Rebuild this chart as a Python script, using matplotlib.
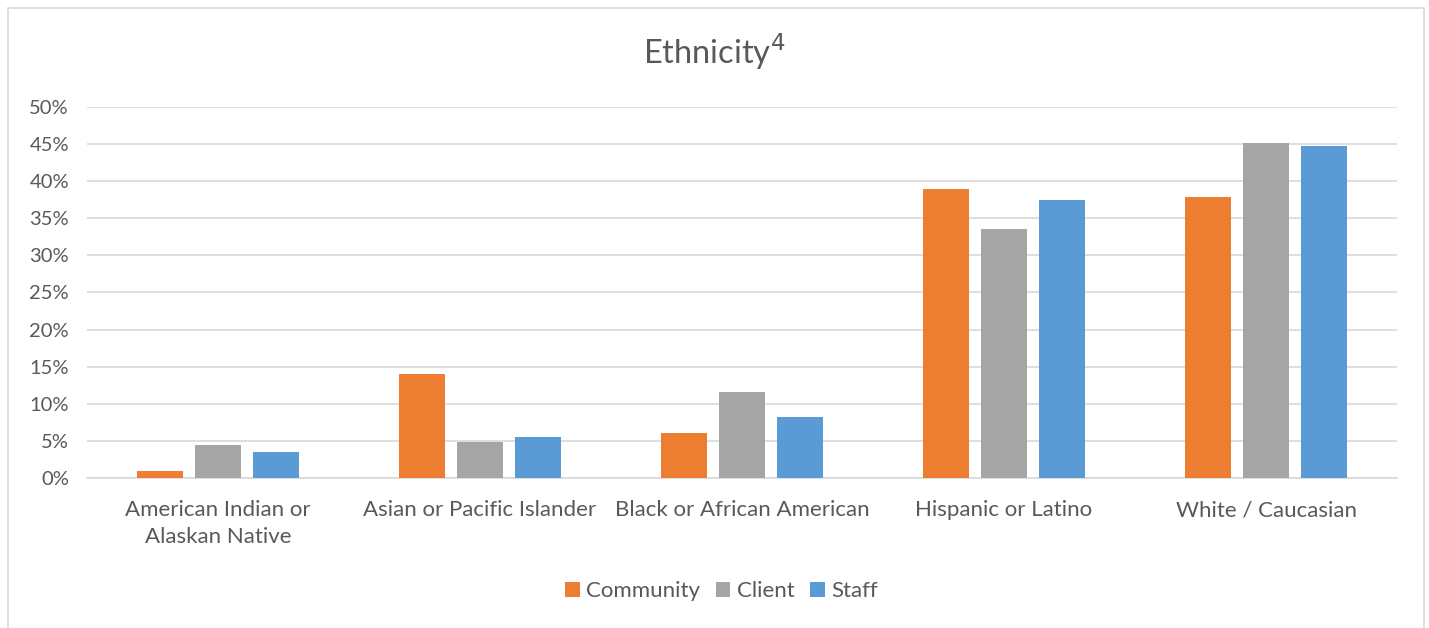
import matplotlib
matplotlib.use("Agg")
import matplotlib.pyplot as plt
import numpy as np
from matplotlib.patches import Rectangle

categories = ["American Indian or\nAlaskan Native", "Asian or Pacific Islander",
              "Black or African American", "Hispanic or Latino", "White / Caucasian"]
community = [1.0, 14.0, 6.0, 38.9, 37.9]
client = [4.4, 4.9, 11.6, 33.6, 45.1]
staff = [3.5, 5.5, 8.2, 37.5, 44.8]
series_names = ["Community", "Client", "Staff"]
colors = ["#ED7D31", "#A5A5A5", "#5B9BD5"]
yticks = [0, 5, 10, 15, 20, 25, 30, 35, 40, 45, 50]

plt.rcParams['font.family'] = ['Lato', 'DejaVu Sans']
txt = "#595959"

W, H = 1429, 628
fig = plt.figure(figsize=(W / 100, H / 100), dpi=100)
fig.patches.append(Rectangle((8 / W, -0.05), (1424 - 8) / W, (H - 8) / H + 0.05, transform=fig.transFigure,
                             fill=False, edgecolor="#D9D9D9", linewidth=1.2))

ax = fig.add_axes([87 / W, (H - 478) / H, (1397 - 87) / W, (478 - 107) / H])
x = np.arange(len(categories))
w = 0.176
off = 0.221
for i, (vals, name, c) in enumerate(zip([community, client, staff], series_names, colors)):
    ax.bar(x + (i - 1) * off, vals, width=w, color=c, label=name, zorder=3)

ax.set_xlim(-0.5, len(categories) - 0.5)
ax.set_ylim(0, 50)
ax.set_yticks(yticks)
ax.set_yticklabels([f"{v}%" for v in yticks], color=txt, fontsize=14.5)
ax.set_xticks(x)
ax.set_xticklabels(categories, color=txt, fontsize=16, linespacing=1.45)
ax.tick_params(axis='both', length=0)
ax.tick_params(axis='y', pad=13)
ax.tick_params(axis='x', pad=16)
for lab in ax.get_yticklabels():
    lab.set_horizontalalignment('right')
ax.grid(axis='y', color="#D9D9D9", linewidth=1.2, zorder=0)
for s in ["top", "right", "left"]:
    ax.spines[s].set_visible(False)
ax.spines["bottom"].set_color("#D9D9D9")
ax.spines["bottom"].set_linewidth(1.2)

fig.text(0.5, 1 - 52 / H, "Ethnicity$^{4}$", ha='center', va='center', fontsize=23.5, color=txt)

handles, labels = ax.get_legend_handles_labels()
leg = fig.legend(handles, labels, loc='center', bbox_to_anchor=(0.505, 1 - 591 / H), ncol=3,
                 frameon=False, fontsize=16, handlelength=0.65, handleheight=0.65,
                 handletextpad=0.3, columnspacing=0.7)
for t in leg.get_texts():
    t.set_color(txt)

fig.savefig("out.png", dpi=100)
